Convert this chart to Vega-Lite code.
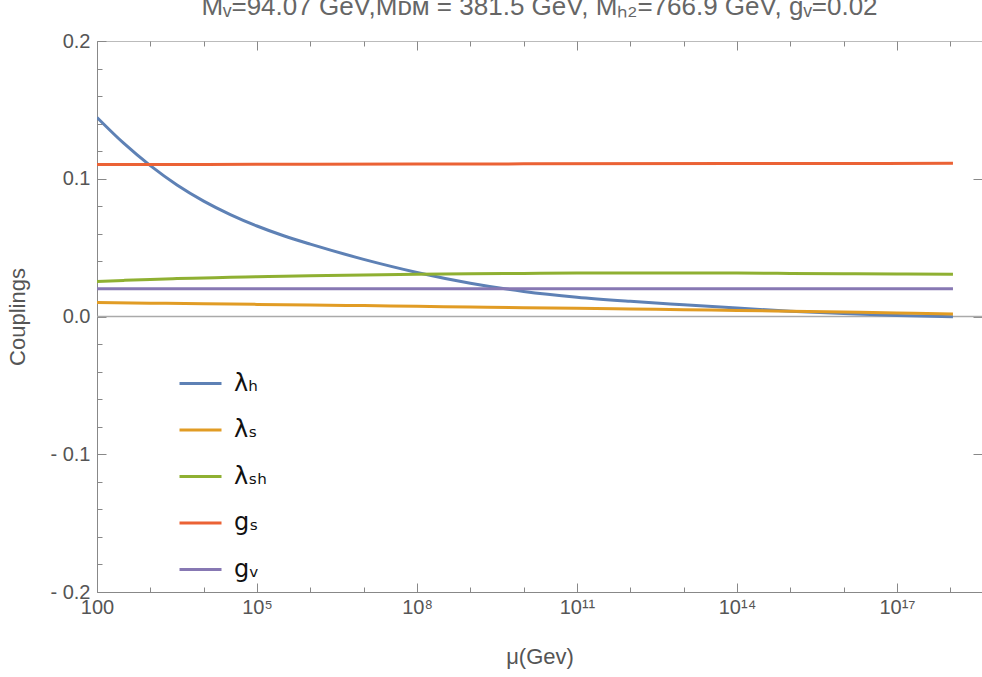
{
  "$schema": "https://vega.github.io/schema/vega-lite/v6.json",
  "width": 885,
  "height": 551,
  "autosize": {"type": "none"},
  "padding": {"left": 97, "top": 41, "right": 0, "bottom": 85},
  "background": "white",
  "config": {
    "view": {"stroke": "#bbbbbb", "strokeWidth": 1},
    "font": "Liberation Sans",
    "axis": {"grid": false, "tickColor": "#888888", "tickWidth": 1, "domainColor": "#888888", "labelColor": "#555555", "titleColor": "#555555", "labelFont": "Liberation Sans", "titleFont": "Liberation Sans", "titleFontWeight": "normal"}
  },
  "title": {
    "text": "Mᵥ=94.07 GeV,Mᴅᴍ = 381.5 GeV,  Mₕ₂=766.9 GeV, gᵥ=0.02",
    "fontSize": 26,
    "font": "Liberation Sans",
    "fontWeight": "normal",
    "color": "#666666",
    "anchor": "middle",
    "frame": "group",
    "baseline": "alphabetic",
    "offset": 22,
    "dy": 32
  },
  "datasets": {
    "curves": [
      {"mu": 100, "s": "λH", "v": 0.1445},
      {"mu": 316.23, "s": "λH", "v": 0.1258},
      {"mu": 1000, "s": "λH", "v": 0.1095},
      {"mu": 3162.3, "s": "λH", "v": 0.0955},
      {"mu": 10000, "s": "λH", "v": 0.0838},
      {"mu": 31623, "s": "λH", "v": 0.074},
      {"mu": 100000, "s": "λH", "v": 0.0657},
      {"mu": 316228, "s": "λH", "v": 0.0586},
      {"mu": 1e6, "s": "λH", "v": 0.0525},
      {"mu": 1e7, "s": "λH", "v": 0.0415},
      {"mu": 1e8, "s": "λH", "v": 0.032},
      {"mu": 1e9, "s": "λH", "v": 0.0242},
      {"mu": 1e10, "s": "λH", "v": 0.0182},
      {"mu": 1e11, "s": "λH", "v": 0.014},
      {"mu": 1e12, "s": "λH", "v": 0.011},
      {"mu": 1e13, "s": "λH", "v": 0.0085},
      {"mu": 1e14, "s": "λH", "v": 0.0061},
      {"mu": 1e15, "s": "λH", "v": 0.0039},
      {"mu": 1e16, "s": "λH", "v": 0.0021},
      {"mu": 1e17, "s": "λH", "v": 0.0008},
      {"mu": 1.122e18, "s": "λH", "v": -0.0002},

      {"mu": 100, "s": "λS", "v": 0.0102},
      {"mu": 1000, "s": "λS", "v": 0.0097},
      {"mu": 10000, "s": "λS", "v": 0.0093},
      {"mu": 100000, "s": "λS", "v": 0.0088},
      {"mu": 1e6, "s": "λS", "v": 0.0084},
      {"mu": 1e7, "s": "λS", "v": 0.0079},
      {"mu": 1e8, "s": "λS", "v": 0.0074},
      {"mu": 1e9, "s": "λS", "v": 0.0069},
      {"mu": 1e10, "s": "λS", "v": 0.0064},
      {"mu": 1e11, "s": "λS", "v": 0.006},
      {"mu": 1e12, "s": "λS", "v": 0.0055},
      {"mu": 1e13, "s": "λS", "v": 0.0049},
      {"mu": 1e14, "s": "λS", "v": 0.0044},
      {"mu": 1e15, "s": "λS", "v": 0.0038},
      {"mu": 1e16, "s": "λS", "v": 0.0032},
      {"mu": 1e17, "s": "λS", "v": 0.0026},
      {"mu": 1.122e18, "s": "λS", "v": 0.0019},

      {"mu": 100, "s": "λSH", "v": 0.0254},
      {"mu": 316.23, "s": "λSH", "v": 0.0262},
      {"mu": 1000, "s": "λSH", "v": 0.0269},
      {"mu": 3162.3, "s": "λSH", "v": 0.0275},
      {"mu": 10000, "s": "λSH", "v": 0.028},
      {"mu": 31623, "s": "λSH", "v": 0.0285},
      {"mu": 100000, "s": "λSH", "v": 0.0289},
      {"mu": 316228, "s": "λSH", "v": 0.0293},
      {"mu": 1e6, "s": "λSH", "v": 0.0296},
      {"mu": 1e7, "s": "λSH", "v": 0.0302},
      {"mu": 1e8, "s": "λSH", "v": 0.0307},
      {"mu": 1e9, "s": "λSH", "v": 0.0311},
      {"mu": 1e10, "s": "λSH", "v": 0.0313},
      {"mu": 1e11, "s": "λSH", "v": 0.0315},
      {"mu": 1e12, "s": "λSH", "v": 0.0316},
      {"mu": 1e13, "s": "λSH", "v": 0.0316},
      {"mu": 1e14, "s": "λSH", "v": 0.0315},
      {"mu": 1e15, "s": "λSH", "v": 0.0313},
      {"mu": 1e16, "s": "λSH", "v": 0.0311},
      {"mu": 1e17, "s": "λSH", "v": 0.0309},
      {"mu": 1.122e18, "s": "λSH", "v": 0.0306},

      {"mu": 100, "s": "gS", "v": 0.1103},
      {"mu": 1e6, "s": "gS", "v": 0.1105},
      {"mu": 1e10, "s": "gS", "v": 0.1108},
      {"mu": 1e14, "s": "gS", "v": 0.111},
      {"mu": 1.122e18, "s": "gS", "v": 0.1112},

      {"mu": 100, "s": "gV", "v": 0.0201},
      {"mu": 1e10, "s": "gV", "v": 0.0201},
      {"mu": 1.122e18, "s": "gV", "v": 0.0201}
    ]
  },
  "layer": [
    {
      "data": {"values": [{"z": 0}]},
      "mark": {"type": "rule", "color": "#aaaaaa", "strokeWidth": 1.5},
      "encoding": {
        "x": {
          "datum": 100, "type": "quantitative",
          "scale": {"type": "log", "domain": [100, 3.93e18], "nice": false},
          "axis": {
            "orient": "top", "title": null, "labels": false, "domain": false,
            "values": [1e2, 1e3, 1e4, 1e5, 1e6, 1e7, 1e8, 1e9, 1e10, 1e11, 1e12, 1e13, 1e14, 1e15, 1e16, 1e17, 1e18],
            "tickSize": {"condition": {"test": "round(log(datum.value)/LN10) % 3 == 2", "value": -9}, "value": -5}
          }
        },
        "x2": {"datum": 3.93e18},
        "y": {
          "datum": 0, "type": "quantitative",
          "scale": {"domain": [-0.2, 0.2], "nice": false, "zero": false},
          "axis": {
            "orient": "right", "title": null, "labels": false, "domain": false,
            "values": [-0.1, 0, 0.1],
            "tickSize": -9
          }
        }
      }
    },
    {
      "data": {"name": "curves"},
      "mark": {"type": "line", "strokeWidth": 3, "interpolate": "monotone", "clip": true},
      "encoding": {
        "x": {
          "field": "mu", "type": "quantitative",
          "scale": {"type": "log", "domain": [100, 3.93e18], "nice": false},
          "axis": {
            "orient": "bottom", "title": "μ(Gev)", "titleFontSize": 22, "titlePadding": 25,
            "labelFontSize": 20, "labelFlush": false, "labelOverlap": false, "labelPadding": 14,
            "values": [1e2, 1e3, 1e4, 1e5, 1e6, 1e7, 1e8, 1e9, 1e10, 1e11, 1e12, 1e13, 1e14, 1e15, 1e16, 1e17, 1e18],
            "labelExpr": "round(log(datum.value)/LN10) == 2 ? '100' : round(log(datum.value)/LN10) == 5 ? '10⁵' : round(log(datum.value)/LN10) == 8 ? '10⁸' : round(log(datum.value)/LN10) == 11 ? '10¹¹' : round(log(datum.value)/LN10) == 14 ? '10¹⁴' : round(log(datum.value)/LN10) == 17 ? '10¹⁷' : ''",
            "tickSize": {"condition": {"test": "round(log(datum.value)/LN10) % 3 == 2", "value": -9}, "value": -5}
          }
        },
        "y": {
          "field": "v", "type": "quantitative",
          "scale": {"domain": [-0.2, 0.2], "nice": false, "zero": false},
          "axis": {
            "orient": "left", "title": "Couplings", "titleFontSize": 22, "titlePadding": 20,
            "labelFontSize": 20, "labelFlush": false, "labelOverlap": false, "labelPadding": 16,
            "values": [-0.2, -0.18, -0.16, -0.14, -0.12, -0.1, -0.08, -0.06, -0.04, -0.02, 0, 0.02, 0.04, 0.06, 0.08, 0.1, 0.12, 0.14, 0.16, 0.18, 0.2],
            "labelExpr": "datum.value == 0.2 ? '0.2' : datum.value == 0.1 ? '0.1' : datum.value == 0 ? '0.0' : datum.value == -0.1 ? '- 0.1' : datum.value == -0.2 ? '- 0.2' : ''",
            "tickSize": {"condition": {"test": "abs(datum.value*10 - round(datum.value*10)) < 0.001", "value": -9}, "value": -5}
          }
        },
        "color": {
          "field": "s", "type": "nominal",
          "scale": {"domain": ["λH", "λS", "λSH", "gS", "gV"], "range": ["#5E81B5", "#E19C24", "#8FB032", "#EB6235", "#8778B3"]},
          "legend": {
            "orient": "none", "legendX": 81, "legendY": 320, "title": null, "padding": 0,
            "symbolType": "stroke", "symbolSize": 1764, "symbolStrokeWidth": 3,
            "labelFontSize": 24, "labelColor": "#111111", "labelFont": "DejaVu Sans", "labelOffset": 11, "rowPadding": 11.5,
            "labelExpr": "datum.label == 'λH' ? 'λₕ' : datum.label == 'λS' ? 'λₛ' : datum.label == 'λSH' ? 'λₛₕ' : datum.label == 'gS' ? 'gₛ' : 'gᵥ'"
          }
        }
      }
    }
  ],
  "resolve": {"axis": {"x": "independent", "y": "independent"}}
}
